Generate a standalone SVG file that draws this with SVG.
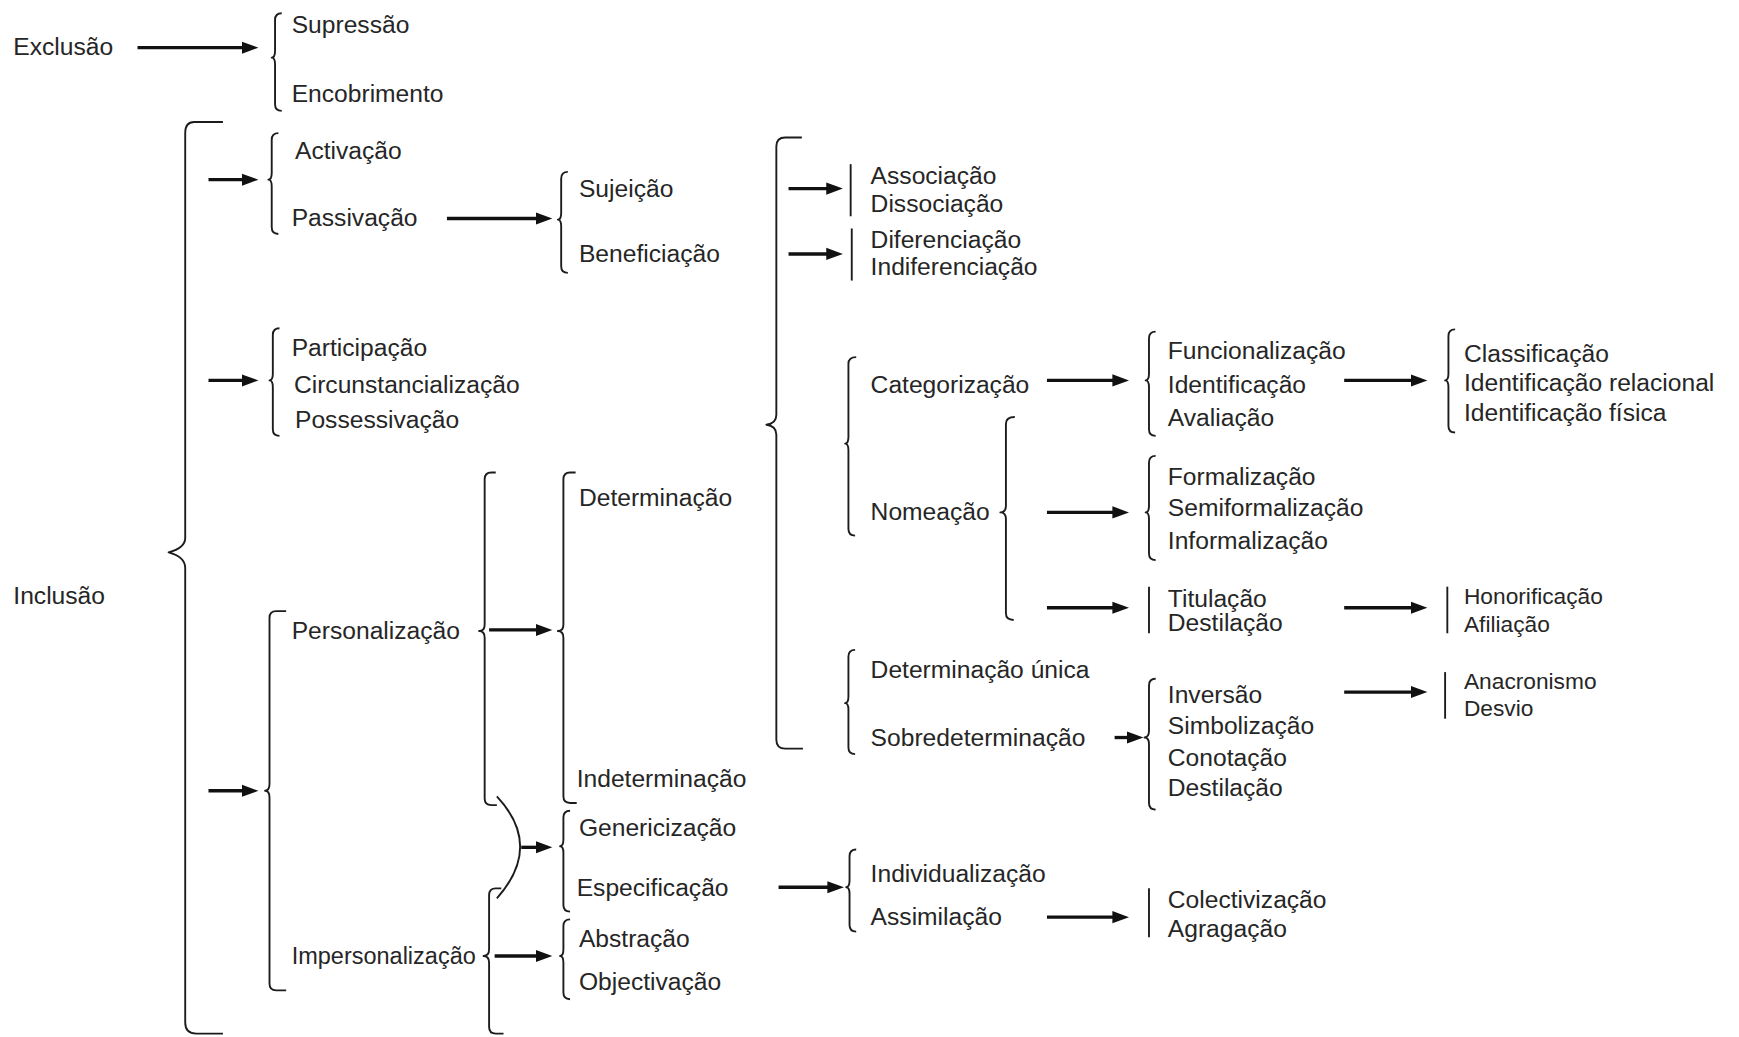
<svg xmlns="http://www.w3.org/2000/svg" width="1739" height="1037" viewBox="0 0 1739 1037">
<style>
text{font-family:"Liberation Sans","DejaVu Sans",sans-serif;font-size:22.2px;fill:#262626}
text.tight{font-size:20.5px}
.br{fill:none;stroke:#1c1c1c;stroke-width:1.7;stroke-linejoin:round}
.arr{stroke:#111;stroke-width:3;fill:none}
</style>
<defs>
<marker id="ah" markerUnits="userSpaceOnUse" markerWidth="16" markerHeight="12" viewBox="0 0 16 12" refX="4" refY="6" orient="auto"><path d="M0,0.5 L15,6 L0,11.5 z" fill="#111"/></marker>
</defs>
<rect width="1739" height="1037" fill="#fff"/>
<g transform="scale(1.10906)">
<g id="connectors">
<!-- brackets -->
<path class="br" d="M254,12 Q248,12 248,18 V46 Q248,52 245,52 Q248,52 248,58 V94 Q248,100 254,100"/>
<path class="br" d="M201,110 H175 Q167,110 167,120 V485 Q167,494 152,498 Q167,502 167,512 V922 Q167,932 177,932 H201"/>
<path class="br" d="M251,120 Q245,120 245,126 V156 Q245,162 242,162 Q245,162 245,168 V205 Q245,211 251,211"/>
<path class="br" d="M512,155 Q506,155 506,161 V192 Q506,198 503,198 Q506,198 506,204 V240 Q506,246 512,246"/>
<path class="br" d="M252,296 Q246,296 246,302 V337 Q246,343 243,343 Q246,343 246,349 V387 Q246,393 252,393"/>
<path class="br" d="M258,551 H249 Q243,551 243,557 V707 Q243,713 239,713 Q243,713 243,719 V887 Q243,893 249,893 H258"/>
<path class="br" d="M447,426 H443 Q437,426 437,432 V563 Q437,569 432,569 Q437,569 437,575 V720 Q437,726 443,726 H448"/>
<path class="br" d="M519,426 H514 Q508,426 508,432 V563 Q508,569 503,569 Q508,569 508,575 V718 Q508,724 514,724 H520"/>
<path class="br" d="M448,718 Q490,763 448,810"/>
<path class="br" d="M514,731 Q508,731 508,737 V757 Q508,763 505,763 Q508,763 508,769 V816 Q508,822 514,822"/>
<path class="br" d="M452,801 H447 Q441,801 441,807 V856 Q441,862 436,862 Q441,862 441,868 V926 Q441,932 447,932 H454"/>
<path class="br" d="M514,829 Q508,829 508,835 V856 Q508,862 505,862 Q508,862 508,868 V895 Q508,901 514,901"/>
<path class="br" d="M723,124 H708 Q700,124 700,132 V374 Q700,382 691,383 Q700,384 700,392 V667 Q700,675 708,675 H724"/>
<path class="br" d="M767,148 V195"/>
<path class="br" d="M768,206 V253"/>
<path class="br" d="M772,322 Q765,322 765,328 V394 Q765,400 762,400 Q765,400 765,406 V477 Q765,483 771,483"/>
<path class="br" d="M915,376 Q907,376 907,382 V456 Q907,462 902,462 Q907,462 907,468 V553 Q907,559 914,559"/>
<path class="br" d="M771,586 Q765,586 765,592 V628 Q765,634 762,634 Q765,634 765,640 V674 Q765,680 771,680"/>
<path class="br" d="M1042,299 Q1036,299 1036,305 V337 Q1036,343 1033,343 Q1036,343 1036,349 V387 Q1036,393 1042,393"/>
<path class="br" d="M1042,411 Q1036,411 1036,417 V456 Q1036,462 1033,462 Q1036,462 1036,468 V499 Q1036,505 1042,505"/>
<path class="br" d="M1036,529 V571"/>
<path class="br" d="M1042,612 Q1036,612 1036,618 V659 Q1036,665 1032,665 Q1036,665 1036,671 V724 Q1036,730 1042,730"/>
<path class="br" d="M1312,297 Q1306,297 1306,303 V337 Q1306,343 1303,343 Q1306,343 1306,349 V384 Q1306,390 1312,390"/>
<path class="br" d="M1305,529 V571"/>
<path class="br" d="M1303,606 V648"/>
<path class="br" d="M772,766 Q766,766 766,772 V794 Q766,800 763,800 Q766,800 766,806 V834 Q766,840 772,840"/>
<path class="br" d="M1036,801 V845"/>
<!-- arrows -->
<line class="arr" x1="124" y1="43" x2="222" y2="43" marker-end="url(#ah)"/>
<line class="arr" x1="188" y1="162" x2="222" y2="162" marker-end="url(#ah)"/>
<line class="arr" x1="403" y1="197" x2="487" y2="197" marker-end="url(#ah)"/>
<line class="arr" x1="188" y1="343" x2="222" y2="343" marker-end="url(#ah)"/>
<line class="arr" x1="188" y1="713" x2="222" y2="713" marker-end="url(#ah)"/>
<line class="arr" x1="441" y1="568" x2="487" y2="568" marker-end="url(#ah)"/>
<line class="arr" x1="470" y1="764" x2="487" y2="764" marker-end="url(#ah)"/>
<line class="arr" x1="446" y1="862" x2="487" y2="862" marker-end="url(#ah)"/>
<line class="arr" x1="711" y1="170" x2="749" y2="170" marker-end="url(#ah)"/>
<line class="arr" x1="711" y1="229" x2="749" y2="229" marker-end="url(#ah)"/>
<line class="arr" x1="944" y1="343" x2="1007" y2="343" marker-end="url(#ah)"/>
<line class="arr" x1="944" y1="462" x2="1007" y2="462" marker-end="url(#ah)"/>
<line class="arr" x1="944" y1="548" x2="1007" y2="548" marker-end="url(#ah)"/>
<line class="arr" x1="1005" y1="665" x2="1020" y2="665" marker-end="url(#ah)"/>
<line class="arr" x1="1212" y1="343" x2="1276" y2="343" marker-end="url(#ah)"/>
<line class="arr" x1="1212" y1="548" x2="1276" y2="548" marker-end="url(#ah)"/>
<line class="arr" x1="1212" y1="624" x2="1276" y2="624" marker-end="url(#ah)"/>
<line class="arr" x1="702" y1="800" x2="750" y2="800" marker-end="url(#ah)"/>
<line class="arr" x1="944" y1="827" x2="1007" y2="827" marker-end="url(#ah)"/>
</g>
<g id="n-exclusao"><text x="12" y="50">Exclusão</text></g>
<g id="n-supressao"><text x="263" y="30">Supressão</text></g>
<g id="n-encobrimento"><text x="263" y="92">Encobrimento</text></g>
<g id="n-inclusao"><text x="12" y="545">Inclusão</text></g>
<g id="n-activacao"><text x="266" y="143">Activação</text></g>
<g id="n-passivacao"><text x="263" y="204">Passivação</text></g>
<g id="n-sujeicao"><text x="522" y="178">Sujeição</text></g>
<g id="n-beneficiacao"><text x="522" y="236">Beneficiação</text></g>
<g id="n-participacao"><text x="263" y="321">Participação</text></g>
<g id="n-circunstancializacao"><text x="265" y="354">Circunstancialização</text></g>
<g id="n-possessivacao"><text x="266" y="386">Possessivação</text></g>
<g id="n-personalizacao"><text x="263" y="576">Personalização</text></g>
<g id="n-impersonalizacao"><text x="263" y="869" textLength="166" lengthAdjust="spacingAndGlyphs">Impersonalização</text></g>
<g id="n-determinacao"><text x="522" y="456">Determinação</text></g>
<g id="n-indeterminacao"><text x="520" y="710">Indeterminação</text></g>
<g id="n-genericizacao"><text x="522" y="754">Genericização</text></g>
<g id="n-especificacao"><text x="520" y="808">Especificação</text></g>
<g id="n-abstracao"><text x="522" y="854">Abstração</text></g>
<g id="n-objectivacao"><text x="522" y="893">Objectivação</text></g>
<g id="n-associacao"><text x="785" y="166">Associação</text></g>
<g id="n-dissociacao"><text x="785" y="191">Dissociação</text></g>
<g id="n-diferenciacao"><text x="785" y="224">Diferenciação</text></g>
<g id="n-indiferenciacao"><text x="785" y="248">Indiferenciação</text></g>
<g id="n-categorizacao"><text x="785" y="354">Categorização</text></g>
<g id="n-nomeacao"><text x="785" y="469">Nomeação</text></g>
<g id="n-determinacao-unica"><text x="785" y="611">Determinação única</text></g>
<g id="n-sobredeterminacao"><text x="785" y="673">Sobredeterminação</text></g>
<g id="n-individualizacao"><text x="785" y="795">Individualização</text></g>
<g id="n-assimilacao"><text x="785" y="834">Assimilação</text></g>
<g id="n-funcionalizacao"><text x="1053" y="324">Funcionalização</text></g>
<g id="n-identificacao"><text x="1053" y="354">Identificação</text></g>
<g id="n-avaliacao"><text x="1053" y="384">Avaliação</text></g>
<g id="n-formalizacao"><text x="1053" y="437">Formalização</text></g>
<g id="n-semiformalizacao"><text x="1053" y="465">Semiformalização</text></g>
<g id="n-informalizacao"><text x="1053" y="495">Informalização</text></g>
<g id="n-titulacao"><text x="1053" y="547">Titulação</text></g>
<g id="n-destilacao1"><text x="1053" y="569">Destilação</text></g>
<g id="n-inversao"><text x="1053" y="634">Inversão</text></g>
<g id="n-simbolizacao"><text x="1053" y="662">Simbolização</text></g>
<g id="n-conotacao"><text x="1053" y="691">Conotação</text></g>
<g id="n-destilacao2"><text x="1053" y="718">Destilação</text></g>
<g id="n-colectivizacao"><text x="1053" y="819">Colectivização</text></g>
<g id="n-agragacao"><text x="1053" y="845">Agragação</text></g>
<g id="n-classificacao"><text x="1320" y="326">Classificação</text></g>
<g id="n-identificacao-relacional"><text x="1320" y="353">Identificação relacional</text></g>
<g id="n-identificacao-fisica"><text x="1320" y="380">Identificação física</text></g>
<g id="n-honorificacao"><text class="tight" x="1320" y="545">Honorificação</text></g>
<g id="n-afiliacao"><text class="tight" x="1320" y="570">Afiliação</text></g>
<g id="n-anacronismo"><text class="tight" x="1320" y="621">Anacronismo</text></g>
<g id="n-desvio"><text class="tight" x="1320" y="646">Desvio</text></g>
</g>
</svg>
